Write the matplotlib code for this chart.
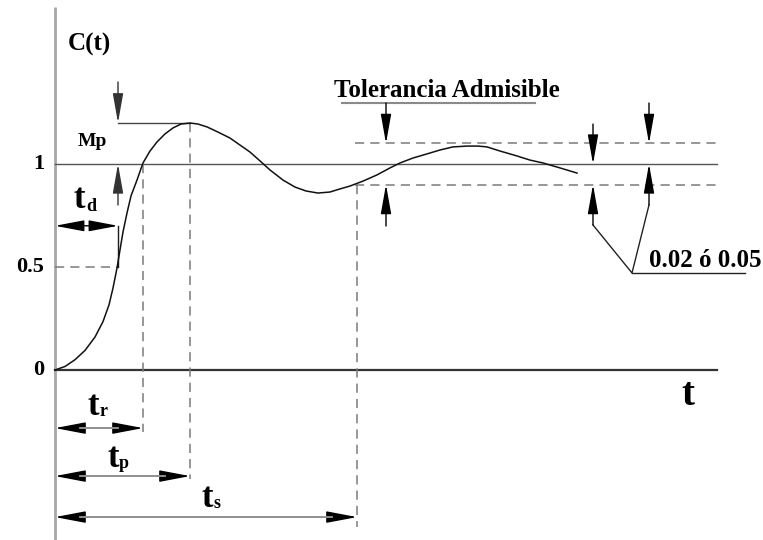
import matplotlib
matplotlib.use("Agg")
import matplotlib.pyplot as plt
from matplotlib.patches import FancyArrowPatch, ArrowStyle

# ---- data ----
curve_t = [0.00, 0.10, 0.20, 0.30, 0.40, 0.48, 0.54, 0.58, 0.62, 0.65, 0.68, 0.72,
           0.76, 0.82, 0.88, 0.95, 1.02, 1.10, 1.18, 1.26, 1.35, 1.43, 1.52, 1.63,
           1.75, 1.85, 1.95, 2.05, 2.15, 2.28, 2.40, 2.51, 2.63, 2.75, 2.85, 2.95,
           3.08, 3.22, 3.35, 3.45, 3.58, 3.72, 3.85, 3.98, 4.12, 4.23, 4.32, 4.45,
           4.62, 4.75, 4.88, 5.05, 5.22]
curve_c = [0.000, 0.017, 0.050, 0.095, 0.160, 0.235, 0.316, 0.398, 0.495, 0.583, 0.670, 0.762,
           0.845, 0.922, 1.005, 1.063, 1.107, 1.146, 1.175, 1.194, 1.199, 1.194, 1.180, 1.155,
           1.126, 1.092, 1.058, 1.015, 0.971, 0.922, 0.888, 0.869, 0.859, 0.864, 0.879, 0.893,
           0.917, 0.947, 0.981, 1.005, 1.029, 1.049, 1.068, 1.083, 1.087, 1.087, 1.083, 1.063,
           1.039, 1.019, 1.005, 0.981, 0.956]

ytick_values = [0, 0.5, 1]
ytick_labels = ["0", "0.5", "1"]

t_d = 0.63   # delay time (C = 0.5)
t_r = 0.88   # rise time
t_p = 1.35   # peak time
t_s = 3.02   # settling time
Mp = 1.2     # peak value
tol = 0.1    # tolerance band half width
t_end = 6.62

SERIF = "Liberation Serif"

fig = plt.figure(figsize=(7.63, 5.40), dpi=100)
ax = fig.add_axes([0, 0, 1, 1])
ax.set_xlim(-0.55, 7.08)
ax.set_ylim(-170 / 206, 370 / 206)
ax.axis("off")

def arrow(p0, p1, style="-|>", color="black", lw=1.0, hl=18, hw=3.2):
    ax.add_patch(FancyArrowPatch(p0, p1,
                                 arrowstyle=ArrowStyle(style, head_length=hl, head_width=hw),
                                 mutation_scale=1, shrinkA=0, shrinkB=0,
                                 color=color, lw=lw, zorder=5))

dash = dict(color="#7a7a7a", lw=1.1, ls=(0, (6, 4)))

# axes
ax.plot([0, 0], [-0.83, 1.76], color="#a8a8a8", lw=2.0, solid_capstyle="butt")
ax.plot([0, t_end], [0, 0], color="#333333", lw=1.6)
ax.plot([0, t_end], [1, 1], color="#555555", lw=1.0)

# tick labels
for v, lab in zip(ytick_values, ytick_labels):
    ax.text(-0.11, v, lab, ha="right", va="center", fontsize=16,
            fontweight="bold", family=SERIF)
ax.text(0.34, 1.578, "C(t)", ha="center", va="center", fontsize=18,
        fontweight="bold", family=SERIF)
ax.text(6.33, -0.17, "t", ha="center", va="baseline", fontsize=28,
        fontweight="bold", family=SERIF)

# response curve
ax.plot(curve_t, curve_c, color="#111111", lw=1.1, zorder=4,
        solid_joinstyle="round")

# tolerance band
ax.plot([3.0, t_end], [1 + tol, 1 + tol], **dash)
ax.plot([3.0, t_end], [1 - tol, 1 - tol], **dash)

# dashed guides
ax.plot([0, t_d], [0.5, 0.5], **dash)
ax.plot([t_r, t_r], [1.0, -0.30], **dash)
ax.plot([t_p, t_p], [Mp, -0.53], **dash)
ax.plot([t_s, t_s], [1 - tol, -0.76], **dash)

# Mp marking
ax.plot([t_d, t_p], [Mp, Mp], color="#444444", lw=1.0)
arrow((t_d, 1.398), (t_d, Mp), color="#333333")
arrow((t_d, 0.801), (t_d, 1.0), color="#333333")
ax.text(0.37, 1.107, "Mp", ha="center", va="center", fontsize=14,
        fontweight="bold", family=SERIF)

# t_d
arrow((0, 0.70), (t_d, 0.70), style="<|-|>", hl=18, hw=3.4)
ax.plot([t_d, t_d], [0.70, 0.5], color="#1a1a1a", lw=1.0)

# time arrows
for tv, yv in [(t_r, -0.282), (t_p, -0.515), (t_s, -0.714)]:
    arrow((0, yv), (tv, yv), style="<|-|>", hl=19, hw=3.6)
    ax.plot([0.25, tv - 0.25], [yv, yv], color="#9a9a9a", lw=1.3, zorder=6)

def tlabel(x, y, sub, xs, ys, size=25, subsize=13):
    ax.text(x, y, "t", ha="left", va="baseline", fontsize=size,
            fontweight="bold", family=SERIF)
    ax.text(xs, ys, sub, ha="left", va="baseline", fontsize=subsize,
            fontweight="bold", family=SERIF)

tlabel(0.19, (370 - 208) / 206, "d", 0.31, (370 - 211) / 206)
tlabel(0.33, (370 - 415) / 206, "r", 0.45, (370 - 416) / 206)
tlabel(0.52, (370 - 467) / 206, "p", 0.64, (370 - 468) / 206)
tlabel(1.47, (370 - 507) / 206, "s", 1.59, (370 - 508) / 206)

# Tolerancia Admisible
ax.text(3.92, 1.325, "Tolerancia Admisible", ha="center", va="baseline",
        fontsize=18, fontweight="bold", family=SERIF)
ax.plot([2.87, 4.80], [1.296, 1.296], color="#8a8a8a", lw=1.5)
arrow((3.31, 1.296), (3.31, 1 + tol))
arrow((3.31, 0.699), (3.31, 1 - tol))

# 0.02 ó 0.05
arrow((5.38, 1.194), (5.38, 1.0))
arrow((5.38, 0.704), (5.38, 1 - tol))
arrow((5.94, 1.296), (5.94, 1 + tol))
arrow((5.94, 0.801), (5.94, 1.0))
ax.plot([5.38, 5.77, 5.94], [0.704, 0.471, 0.801], color="#222222", lw=1.0)
ax.plot([5.77, 6.90], [0.471, 0.471], color="#222222", lw=1.0)
ax.text(5.94, 0.5, "0.02 ó 0.05", ha="left", va="baseline", fontsize=18,
        fontweight="bold", family=SERIF)

fig.savefig("out.png", dpi=100, facecolor="white")
